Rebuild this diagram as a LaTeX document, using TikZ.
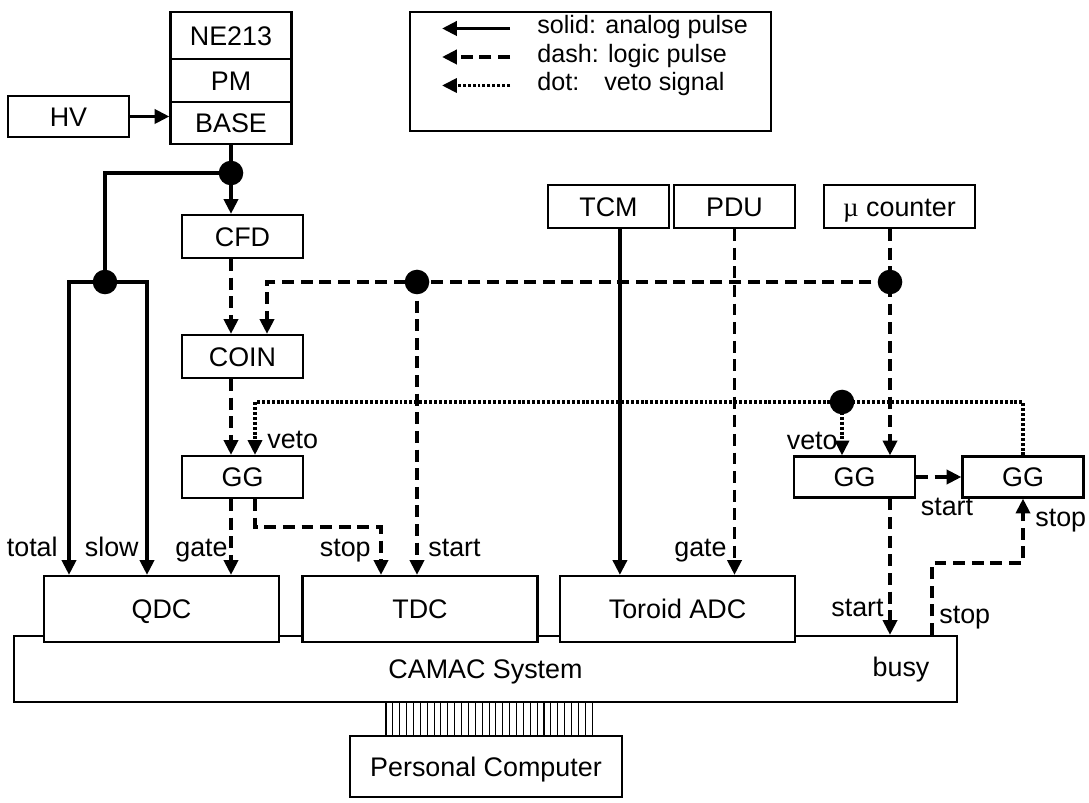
\documentclass[tikz,border=0pt]{standalone}
\usepackage{fontspec}
\setmainfont{Liberation Sans}
\newfontfamily\mufont{Liberation Serif}
\usetikzlibrary{arrows.meta}

\begin{document}
\begin{tikzpicture}[x=0.02cm, y=-0.02cm, >={Triangle[length=8.5pt,width=8pt]},
    every node/.style={font=\fontsize{15.3}{18}\selectfont},
    box/.style={rectangle, draw, line width=1.2pt, fill=white, inner sep=0pt, text height=10.9pt, text depth=0pt, minimum width=2.42cm, minimum height=0.86cm},
    widebox/.style={box, minimum width=4.7cm, minimum height=1.32cm},
    lbl/.style={inner sep=0pt},
    keytext/.style={lbl, font=\fontsize{14.3}{16}\selectfont},
    analog/.style={line width=2.2pt},
    logic/.style={line width=2.2pt, dash pattern=on 6.8pt off 3.8pt},
    veto/.style={line width=2pt, dash pattern=on 1.7pt off 1.1pt}]
      \useasboundingbox (0,0) rectangle (1089,803);

      % detector and supply
      \node (ne) [box, minimum height=0.94cm] at (231,35.5) {NE213};
      \node (pm) [box] at (231,80.5) {PM};
      \node (base) [box, minimum height=0.84cm] at (231,123) {BASE};
      \node (hv) [box, minimum height=0.82cm] at (68.5,116.5) {HV};

      % legend
      \node (legend) [box, minimum width=7.22cm, minimum height=2.38cm] at (590.5,71.5) {};
      \foreach \sty/\y/\txt [count=\i] in {analog/28.5/{solid: analog pulse}, logic/57/{dash: logic pulse}, veto/85.5/{dot:\quad veto signal}} {
        \node (key\i) [keytext, anchor=base west] at (537,\y+5.5) {\txt};
        \coordinate (tail\i) at (510,\y);
        \coordinate (head\i) at (442,\y);
        \draw[\sty,->] (tail\i) -- (head\i);
      }

      % modules
      \node (cfd) [box] at (242.5,236.5) {CFD};
      \node (coin) [box] at (242.5,356.5) {COIN};
      \node (gga) [box, minimum height=0.84cm] at (242.5,477) {GG};
      \node (tcm) [box] at (608.5,206.5) {TCM};
      \node (pdu) [box] at (734.5,206.5) {PDU};
      \node (mu) [box, minimum width=3.02cm] at (899.5,206.5) {{\mufont µ} counter};
      \node (ggb) [box, minimum height=0.82cm] at (854.5,477) {GG};
      \node (ggc) [box, minimum height=0.82cm] at (1023,477) {GG};
      \node (camac) [box, minimum width=18.86cm, minimum height=1.32cm] at (485.5,669) {CAMAC System};
      \node (qdc) [widebox] at (161.5,609) {QDC};
      \node (tdc) [widebox] at (420,609) {TDC};
      \node (adc) [widebox] at (677.5,609) {Toroid ADC};
      \node (pc) [box, minimum width=5.44cm, minimum height=1.22cm] at (486,766.5) {Personal Computer};

      % junctions and bends
      \coordinate (j1) at (231,173);
      \coordinate (j2) at (105,282);
      \coordinate (j3) at (417,282);
      \coordinate (j4) at (890,282);
      \coordinate (j5) at (842,402);
      \coordinate (tot) at (69,282);
      \coordinate (slw) at (147,282);
      \coordinate (lg) at (267,282);
      \coordinate (vl) at (255,402);
      \coordinate (gs) at (381,527);
      \coordinate (sc) at (932,563);
      \path ([xshift=6.5pt]tcm.south) coordinate (tcmout);

      % analog
      \draw[analog,->] (hv.east) -- (hv.east -| base.west);
      \draw[analog,->] (base.south) -- (j1) -- (j1 |- cfd.north);
      \draw[analog] (j1) -| (j2);
      \draw[analog,->] (j2) -- (tot) -- (tot |- qdc.north);
      \draw[analog,->] (j2) -- (slw) -- (slw |- qdc.north);
      \draw[analog,->] (tcmout) -- (tcmout |- adc.north);

      % logic
      \draw[logic,->] (j1 |- cfd.south) -- (j1 |- coin.north);
      \draw[logic,->] (j1 |- coin.south) -- (j1 |- gga.north);
      \draw[logic,->] (j1 |- gga.south) -- (j1 |- qdc.north);
      \draw[logic,->] (j4 |- mu.south) -- (j4) -- (j4 |- ggb.north);
      \draw[logic,->] (j4) -- (lg) -- (lg |- coin.north);
      \draw[logic,->] (j3) -- (j3 |- tdc.north);
      \draw[logic,->] (vl |- gga.south) |- (gs) -- (gs |- tdc.north);
      \draw[logic,->] (pdu.south) -- (pdu.south |- adc.north);
      \draw[logic,->] (j4 |- ggb.south) -- (j4 |- camac.north);
      \draw[logic,->] (ggb.east) -- (ggc.west);
      \draw[logic,->] (sc |- camac.north) -- (sc) -| (ggc.south);

      % veto
      \draw[veto] (ggc.north) |- (vl);
      \draw[veto,->] (vl) -- (vl |- gga.north);
      \draw[veto,->] (j5) -- (j5 |- ggb.north);

      \foreach \j in {j1,j2,j3,j4,j5}
        \fill (\j) circle [radius=7pt];

      % bus cable
      \foreach \i in {0,...,30}
        \draw[line width=0.6pt] ({386+6.87*\i},702) -- ({386+6.87*\i},736);

      % labels
      \node (ltotal) [lbl, anchor=base east] at (58,557) {total};
      \node (lslow) [lbl, anchor=base east] at (139,557) {slow};
      \node (lgate) [lbl, anchor=base east] at (228,557) {gate};
      \node (lstop) [lbl, anchor=base east] at (371,557) {stop};
      \node (lstart) [lbl, anchor=base west] at (428,557) {start};
      \node (lgate2) [lbl, anchor=base east] at (727,557) {gate};
      \node (lstart2) [lbl, anchor=base east] at (884,617) {start};
      \node (lstop2) [lbl, anchor=base west] at (939,623) {stop};
      \node (lbusy) [lbl, anchor=base] at (901,677) {busy};
      \node (lstop3) [lbl, anchor=base west] at (1035,527) {stop};
      \node (lstart3) [lbl, anchor=base] at (947,516) {start};
      \node (lveto) [lbl, anchor=base west] at (267,449) {veto};
      \node (lveto2) [lbl, anchor=base east] at (838,450) {veto};
    \end{tikzpicture}
\end{document}
